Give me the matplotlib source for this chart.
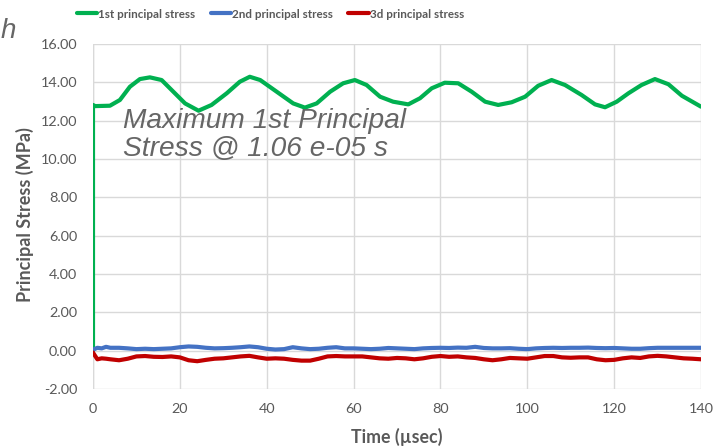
import matplotlib
matplotlib.use("Agg")
import matplotlib.pyplot as plt
from matplotlib.ticker import FuncFormatter, MultipleLocator

# Principal stress history (MPa) versus time (µs)
t1 = [0, 0, 0.5, 3.9, 6.2, 8.5, 10.8, 13.1, 15.8, 18.5, 21.2, 24.3, 27.3, 30.8,
      33.8, 36.1, 38.5, 42.3, 46.1, 48.8, 51.5, 54.6, 57.6, 60.3, 63.0, 66.1,
      69.1, 72.6, 75.3, 78.0, 81.0, 84.1, 87.2, 90.3, 93.3, 96.4, 99.5, 102.5,
      105.6, 108.7, 112.5, 115.6, 117.9, 120.6, 123.3, 126.3, 129.4, 132.5,
      135.6, 140.0]
s1 = [0.0, 12.82, 12.76, 12.78, 13.08, 13.77, 14.17, 14.26, 14.12, 13.51, 12.9,
      12.52, 12.82, 13.43, 14.03, 14.29, 14.12, 13.51, 12.9, 12.68, 12.9, 13.51,
      13.95, 14.12, 13.86, 13.25, 12.99, 12.85, 13.17, 13.69, 13.98, 13.95,
      13.51, 12.99, 12.82, 12.96, 13.25, 13.82, 14.12, 13.86, 13.34, 12.85,
      12.70, 12.99, 13.43, 13.86, 14.17, 13.9, 13.3, 12.73]

t23 = [0, 1, 2, 3, 4, 6, 8, 10, 12, 14, 16, 18, 20, 22, 24, 26, 28, 30, 32, 34, 36,
       38, 40, 42, 44, 46, 48, 50, 52, 54, 56, 58, 60, 62, 64, 66, 68, 70, 72, 74,
       76, 78, 80, 82, 84, 86, 88, 90, 92, 94, 96, 98, 100, 102, 104, 106, 108, 110,
       112, 114, 116, 118, 120, 122, 124, 126, 128, 130, 132, 134, 136, 138, 140]
s2 = [0.05, 0.15, 0.12, 0.2, 0.15, 0.15, 0.12, 0.08, 0.1, 0.08, 0.1, 0.12, 0.18,
      0.22, 0.2, 0.15, 0.12, 0.13, 0.15, 0.18, 0.22, 0.18, 0.1, 0.06, 0.08, 0.18,
      0.12, 0.08, 0.1, 0.15, 0.18, 0.12, 0.12, 0.1, 0.08, 0.1, 0.14, 0.12, 0.1,
      0.08, 0.12, 0.14, 0.15, 0.14, 0.16, 0.15, 0.2, 0.14, 0.12, 0.12, 0.13, 0.1,
      0.08, 0.12, 0.14, 0.15, 0.14, 0.15, 0.15, 0.16, 0.14, 0.13, 0.14, 0.12, 0.1,
      0.1, 0.13, 0.15, 0.15, 0.15, 0.15, 0.15, 0.15]
s3 = [-0.1, -0.45, -0.4, -0.42, -0.45, -0.5, -0.42, -0.3, -0.28, -0.32, -0.33,
      -0.3, -0.35, -0.5, -0.55, -0.48, -0.42, -0.4, -0.35, -0.3, -0.27, -0.35,
      -0.42, -0.4, -0.42, -0.48, -0.52, -0.52, -0.42, -0.3, -0.28, -0.3, -0.3,
      -0.3, -0.35, -0.4, -0.42, -0.38, -0.4, -0.45, -0.4, -0.32, -0.28, -0.32,
      -0.3, -0.35, -0.38, -0.45, -0.5, -0.45, -0.38, -0.4, -0.42, -0.35, -0.28,
      -0.28, -0.35, -0.37, -0.35, -0.35, -0.45, -0.5, -0.48, -0.4, -0.35, -0.38,
      -0.3, -0.27, -0.3, -0.35, -0.4, -0.42, -0.45]

labels = ["1st principal stress", "2nd principal stress", "3d principal stress"]
colors = ["#00B050", "#4472C4", "#C00000"]

plt.rcParams["font.family"] = ["Lato", "DejaVu Sans"]
grey = "#595959"

W, H = 724, 447
fig = plt.figure(figsize=(W / 100, H / 100), dpi=100)
ax = fig.add_axes([93 / W, 1 - 389 / H, (701 - 93) / W, (389 - 44) / H])

lw = 3.0
style = dict(lw=lw, solid_joinstyle="round", solid_capstyle="round")
h1, = ax.plot(t1, s1, color=colors[0], zorder=3, **style)
h2, = ax.plot(t23, s2, color=colors[1], zorder=3, **style)
h3, = ax.plot(t23, s3, color=colors[2], zorder=4, **style)

ax.set_xlim(0, 140)
ax.set_ylim(-2, 16)
ax.xaxis.set_major_locator(MultipleLocator(20))
ax.yaxis.set_major_locator(MultipleLocator(2))
ax.yaxis.set_major_formatter(FuncFormatter(lambda v, p: f"{v:.2f}".replace("\u2212", "-")))
ax.grid(True, color="#d9d9d9", lw=1.0, zorder=0)
for s in ax.spines.values():
    s.set_visible(False)
ax.axvline(0, color="#d9d9d9", lw=1.0, zorder=1)
ax.tick_params(length=0, labelsize=11, colors=grey)
ax.tick_params(axis="y", pad=11.5)
ax.tick_params(axis="x", pad=10)

xl = ax.set_xlabel("Time (µsec)", fontsize=11, fontweight="bold", color=grey)
yl = ax.set_ylabel("Principal Stress (MPa)", fontsize=11, fontweight="bold", color=grey)
ax.xaxis.set_label_coords(0.5, (389 - 437) / 345)
ax.yaxis.set_label_coords((25 - 93) / 608, 0.5 + (216.5 - 215) / 345)
xl.set_va("center")
yl.set_va("center")

note = ax.text(123 / W, 1 - 156 / H,
               "Maximum 1st Principal\nStress @ 1.06 e-05 s",
               transform=fig.transFigure, fontsize=20, style="italic", color="#666666",
               family=["Liberation Sans", "DejaVu Sans"], ha="left", va="baseline",
               linespacing=1.1)

fig.text(1 / W, 1 - 38 / H, "h", fontsize=20, style="italic", color="#666666",
         family=["Liberation Sans", "DejaVu Sans"], ha="left", va="baseline")

leg = fig.legend([h1, h2, h3], labels, loc="center left",
                 bbox_to_anchor=(66 / W, 1 - 14 / H), ncol=3, frameon=False,
                 handlelength=1.75, handletextpad=0.12, columnspacing=1.3,
                 prop={"family": ["Lato", "DejaVu Sans"], "weight": "bold", "size": 8.4},
                 labelcolor=grey)

# size the axis text so each label spans its intended pixel extent
fig.canvas.draw()
r = fig.canvas.get_renderer()
ytl = ax.get_yticklabels()[-1]
k = 37 / ytl.get_window_extent(r).width
ax.tick_params(labelsize=11 * k)
xl.set_fontsize(11 * 91 / xl.get_window_extent(r).width)
yl.set_fontsize(11 * 174 / yl.get_window_extent(r).height)
line1 = ax.text(0, 0, "Maximum 1st Principal", fontsize=20, style="italic",
                family=["Liberation Sans", "DejaVu Sans"])
nf = 20 * 282 / line1.get_window_extent(r).width
line1.remove()
note.set_fontsize(nf)

fig.savefig("out.png", dpi=100)
